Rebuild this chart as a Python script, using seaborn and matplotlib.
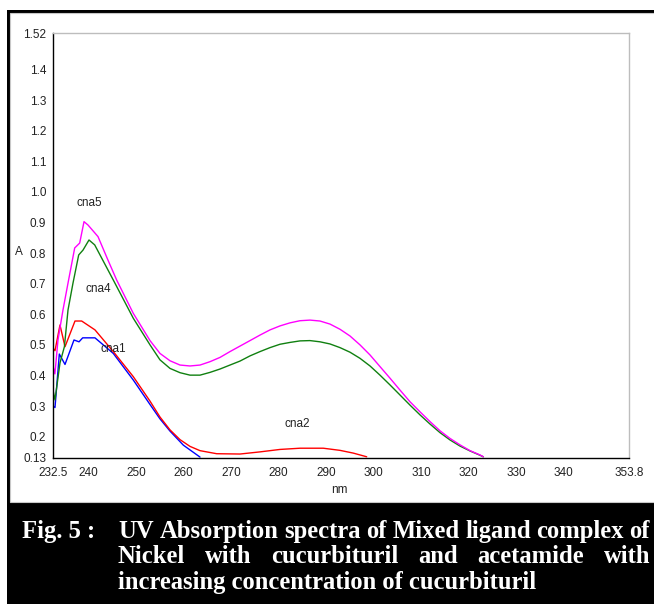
import numpy as np
import pandas as pd
import matplotlib
matplotlib.use("Agg")
import matplotlib.pyplot as plt
from matplotlib.patches import Rectangle
import seaborn as sns

# wavelength (nm) / absorbance
wl_cna1 = [232.5, 232.92, 233.83, 235.03, 236.92, 237.98, 238.75, 241.34, 245.2, 249.41, 252.93, 255.03,
           257.14, 259.95, 263.46]
abs_cna1 = [0.300, 0.295, 0.470, 0.436, 0.516, 0.510, 0.523, 0.523, 0.472, 0.385, 0.305, 0.258,
            0.218, 0.172, 0.133]

wl_cna2 = [232.5, 232.92, 233.97, 235.03, 237.13, 238.54, 241.34, 245.2, 249.41, 252.93, 255.03, 257.14,
           259.25, 261.35, 263.46, 266.97, 271.88, 276.09, 280.30, 284.52, 289.42, 292.94, 295.74, 298.56]
abs_cna2 = [0.489, 0.481, 0.565, 0.494, 0.578, 0.578, 0.549, 0.478, 0.396, 0.316, 0.264, 0.222,
            0.190, 0.168, 0.154, 0.144, 0.143, 0.150, 0.158, 0.162, 0.162, 0.155, 0.146, 0.134]

wl_cna4 = [232.5, 232.92, 233.97, 234.9, 235.66, 236.71, 237.91, 238.82, 240.08, 241.28, 245.2, 249.41,
           252.93, 255.03, 257.14, 259.25, 261.35, 263.46, 265.56, 267.67, 269.77, 271.88, 273.99,
           276.09, 278.20, 280.30, 282.41, 284.52, 286.62, 288.73, 290.83, 292.94, 295.05, 297.15,
           299.26, 301.36, 303.47, 305.58, 307.68, 309.79, 311.90, 314.00, 316.11, 318.21, 320.32,
           322.42, 323.12]
abs_cna4 = [0.352, 0.320, 0.441, 0.494, 0.614, 0.702, 0.794, 0.810, 0.843, 0.827, 0.712, 0.587,
            0.500, 0.451, 0.423, 0.409, 0.401, 0.401, 0.410, 0.421, 0.434, 0.447, 0.464,
            0.478, 0.491, 0.502, 0.508, 0.513, 0.514, 0.510, 0.503, 0.491, 0.476, 0.456,
            0.431, 0.401, 0.369, 0.336, 0.303, 0.271, 0.241, 0.213, 0.189, 0.169, 0.153,
            0.139, 0.134]

wl_cna5 = [232.5, 232.9, 233.55, 234.6, 235.66, 237.07, 238.12, 239.03, 239.87, 241.98, 244.0, 245.91,
           249.41, 252.93, 255.03, 257.14, 259.25, 261.35, 263.46, 265.56, 267.67, 269.77, 271.88,
           273.99, 276.09, 278.20, 280.30, 282.41, 284.52, 286.62, 288.73, 290.83, 292.94, 295.05,
           297.15, 299.26, 301.36, 303.47, 305.58, 307.68, 309.79, 311.90, 314.00, 316.11, 318.21,
           320.32, 322.42, 323.12]
abs_cna5 = [0.431, 0.405, 0.516, 0.614, 0.702, 0.817, 0.833, 0.903, 0.892, 0.854, 0.780, 0.712,
            0.603, 0.514, 0.472, 0.448, 0.434, 0.431, 0.434, 0.445, 0.459, 0.478, 0.496,
            0.514, 0.532, 0.549, 0.562, 0.572, 0.579, 0.581, 0.578, 0.568, 0.551, 0.529,
            0.500, 0.467, 0.429, 0.391, 0.352, 0.314, 0.281, 0.249, 0.219, 0.194, 0.173,
            0.154, 0.140, 0.134]

series_names = ["cna1", "cna2", "cna4", "cna5"]
series_colors = {"cna1": "#0000ff", "cna2": "#ff0000", "cna4": "#108010", "cna5": "#ff00ff"}
label_pos = {"cna5": (240.1, 0.964), "cna4": (242.0, 0.683), "cna1": (245.1, 0.487), "cna2": (283.9, 0.241)}

x_ticks = [232.5, 240, 250, 260, 270, 280, 290, 300, 310, 320, 330, 340, 350, 353.8]
x_ticklabels = ["232.5", "240", "250", "260", "270", "280", "290", "300", "310", "320", "330", "340", "", "353.8"]
y_ticks = [0.13, 0.2, 0.3, 0.4, 0.5, 0.6, 0.7, 0.8, 0.9, 1.0, 1.1, 1.2, 1.3, 1.4, 1.52]
y_ticklabels = ["0.13", "0.2", "0.3", "0.4", "0.5", "0.6", "0.7", "0.8", "0.9", "1.0", "1.1", "1.2", "1.3", "1.4", "1.52"]

caption_head = "Fig. 5 :"
caption_lines = ["UV Absorption spectra of Mixed ligand complex of",
                 "Nickel with cucurbituril and acetamide with",
                 "increasing concentration of cucurbituril"]

# long table for seaborn
frames = []
for name, wl, ab in [("cna1", wl_cna1, abs_cna1), ("cna2", wl_cna2, abs_cna2),
                     ("cna4", wl_cna4, abs_cna4), ("cna5", wl_cna5, abs_cna5)]:
    frames.append(pd.DataFrame({"nm": wl, "A": ab, "sample": name}))
df = pd.concat(frames, ignore_index=True)

sns.set_style("white")
plt.rcParams["font.family"] = ["Liberation Sans", "DejaVu Sans"]

W, H = 654, 604
fig = plt.figure(figsize=(W / 100, H / 100), dpi=100)

# outer black frame + white panel (caption band stays black)
fig.patches.append(Rectangle((7 / W, 0), 1, (H - 10) / H, transform=fig.transFigure,
                             facecolor="black", edgecolor="none", zorder=-10))
fig.patches.append(Rectangle((10 / W, (H - 502) / H), 1, (502 - 13) / H, transform=fig.transFigure,
                             facecolor="white", edgecolor="#c8c8c8", linewidth=0.8, zorder=-9))

ax = fig.add_axes([53 / W, (H - 458) / H, 576 / W, 425 / H])
ax.set_facecolor("white")
sns.lineplot(data=df, x="nm", y="A", hue="sample", hue_order=series_names, palette=series_colors,
             sort=False, estimator=None, linewidth=1.0, legend=False, ax=ax)

for name in series_names:
    x, y = label_pos[name]
    ax.text(x, y, name, fontsize=8.5, ha="center", va="center", color="#222222")

ax.set_xlim(232.5, 353.8)
ax.set_ylim(0.13, 1.52)
ax.set_xticks(x_ticks)
ax.set_xticklabels(x_ticklabels, fontsize=8.5)
ax.set_yticks(y_ticks)
ax.set_yticklabels(y_ticklabels, fontsize=8.5)
ax.tick_params(axis="both", direction="out", length=3.5, width=1, color="black", labelcolor="#222222")
ax.tick_params(axis="x", pad=3)
ax.tick_params(axis="y", pad=1.5)

for side in ["left", "bottom"]:
    ax.spines[side].set_color("black")
    ax.spines[side].set_linewidth(1)
for side in ["top", "right"]:
    ax.spines[side].set_color("#bdbdbd")
    ax.spines[side].set_linewidth(1)

ax.set_xlabel("nm", fontsize=8.5, color="#222222")
ax.xaxis.set_label_coords(0.498, -0.061)
ax.set_ylabel("A", fontsize=8.5, rotation=0, ha="center", va="center", color="#222222")
ax.yaxis.set_label_coords(-0.059, 0.485)

# caption in the black band, first two lines justified
renderer = fig.canvas.get_renderer()
cap_font = dict(family="Liberation Serif", fontweight="bold", color="white", va="baseline")
probe = fig.text(0, 0, caption_lines[2], fontsize=14, **cap_font)
cap_fs = 14 * 420 / probe.get_window_extent(renderer).width
probe.remove()

baselines = [538, 563, 589]
fig.text(22 / W, (H - baselines[0]) / H, caption_head, fontsize=cap_fs, **cap_font)
x0, x1 = 118, 650
for i, line in enumerate(caption_lines):
    yb = (H - baselines[i]) / H
    if i == 2:
        fig.text(x0 / W, yb, line, fontsize=cap_fs, **cap_font)
        continue
    words = line.split()
    texts = [fig.text(0, yb, w, fontsize=cap_fs, **cap_font) for w in words]
    widths = [t.get_window_extent(renderer).width for t in texts]
    gap = (x1 - x0 - sum(widths)) / (len(words) - 1)
    pos = x0
    for t, w in zip(texts, widths):
        t.set_x(pos / W)
        pos += w + gap

fig.savefig("out.png", dpi=100)
